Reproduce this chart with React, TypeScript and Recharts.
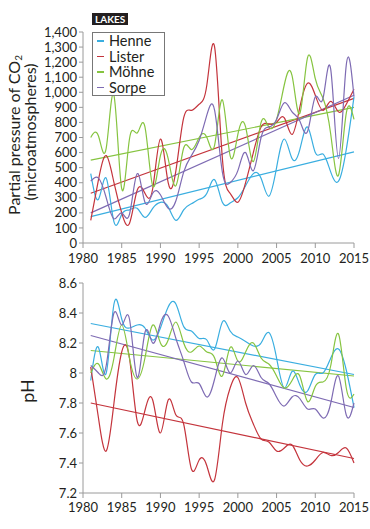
import React from "react";
import { LineChart, Line, XAxis, YAxis, ReferenceLine } from "recharts";

const years = [
  1981, 1982, 1983, 1984, 1985, 1986, 1987, 1988, 1989, 1990, 1991, 1992,
  1993, 1994, 1995, 1996, 1997, 1998, 1999, 2000, 2001, 2002, 2003, 2004,
  2005, 2006, 2007, 2008, 2009, 2010, 2011, 2012, 2013, 2014, 2015,
];

// pCO2 (microatmospheres)
const henneCO2 = [460, 290, 430, 140, 190, 220, 230, 170, 230, 270, 240, 150, 220, 260, 290, 330, 420, 270, 265, 300, 380, 460, 430, 310, 500, 690, 560, 620, 770, 600, 590, 470, 410, 620, 970];
const listerCO2 = [150, 420, 580, 400, 200, 130, 350, 330, 360, 690, 400, 480, 830, 880, 920, 1050, 1300, 560, 330, 270, 400, 600, 770, 790, 800, 830, 720, 900, 1060, 980, 880, 940, 870, 920, 1020];
const mohneCO2 = [700, 710, 630, 980, 360, 690, 730, 770, 380, 580, 560, 380, 630, 620, 700, 700, 650, 950, 580, 720, 770, 540, 800, 770, 820, 1050, 1110, 860, 1230, 1090, 960, 720, 450, 860, 820];
const sorpeCO2 = [410, 430, 300, 160, 200, 190, 460, 270, 330, 320, 230, 280, 470, 580, 680, 850, 880, 470, 400, 480, 600, 480, 700, 770, 820, 930, 870, 810, 740, 970, 960, 1150, 560, 1180, 970];

// pH
const hennePH = [7.95, 8.17, 8.0, 8.46, 8.36, 8.3, 8.32, 8.3, 8.22, 8.3, 8.44, 8.46, 8.31, 8.28, 8.23, 8.22, 8.16, 8.34, 8.28, 8.24, 8.21, 8.18, 8.2, 8.27, 8.1, 7.9, 8.01, 7.92, 7.88, 7.99, 8.0, 8.1, 8.16, 8.02, 7.77];
const listerPH = [8.04, 7.7, 7.48, 7.8, 8.14, 8.1, 7.68, 7.75, 7.82, 7.6, 7.82, 7.72, 7.66, 7.36, 7.42, 7.38, 7.29, 7.66, 7.9, 7.97, 7.8, 7.66, 7.56, 7.54, 7.48, 7.5, 7.52, 7.42, 7.38, 7.42, 7.47, 7.45, 7.47, 7.5, 7.4];
const mohnePH = [8.0, 8.06, 7.96, 8.1, 8.32, 8.1, 7.96, 8.1, 8.32, 8.2, 8.22, 8.34, 8.2, 8.14, 8.18, 8.14, 8.1, 7.98, 8.17, 8.08, 8.14, 8.2, 8.1, 8.06, 7.98, 7.9, 7.95, 7.98, 7.81, 7.91, 7.94, 8.05, 8.26, 7.9, 7.86];
const sorpePH = [8.05, 8.0, 8.05, 8.4, 8.32, 8.36, 7.97, 8.27, 8.2, 8.33, 8.38, 8.23, 8.08, 7.94, 7.93, 7.84, 7.96, 8.1, 8.0, 8.08, 7.99, 8.05, 7.97, 7.93, 7.84, 7.78, 7.84, 7.83, 7.76, 7.76, 7.7, 7.8, 7.98, 7.72, 7.8];

// trend lines: value at first and last year
const trendYears = [1981, 2015];
const henneCO2Trend = [175, 605];
const listerCO2Trend = [330, 960];
const mohneCO2Trend = [550, 900];
const sorpeCO2Trend = [200, 980];
const hennePHTrend = [8.33, 7.99];
const listerPHTrend = [7.8, 7.43];
const mohnePHTrend = [8.15, 7.98];
const sorpePHTrend = [8.25, 7.77];

const lakes = ["Henne", "Lister", "Möhne", "Sorpe"];
const colors = ["#3aaee0", "#c4343c", "#86c440", "#7e6bb3"];

const xTicks = [1980, 1985, 1990, 1995, 2000, 2005, 2010, 2015];
const co2Ticks = [0, 100, 200, 300, 400, 500, 600, 700, 800, 900, 1000, 1100, 1200, 1300, 1400];
const phTicks = [7.2, 7.4, 7.6, 7.8, 8, 8.2, 8.4, 8.6];

const co2Data = years.map((year, i) => ({
  year,
  Henne: henneCO2[i],
  Lister: listerCO2[i],
  Möhne: mohneCO2[i],
  Sorpe: sorpeCO2[i],
}));

const phData = years.map((year, i) => ({
  year,
  Henne: hennePH[i],
  Lister: listerPH[i],
  Möhne: mohnePH[i],
  Sorpe: sorpePH[i],
}));

const co2Trends = [henneCO2Trend, listerCO2Trend, mohneCO2Trend, sorpeCO2Trend];
const phTrends = [hennePHTrend, listerPHTrend, mohnePHTrend, sorpePHTrend];

const font = "Lato, 'Open Sans', sans-serif";
const tickStyle = { fontSize: 13, fill: "#231f20", fontFamily: font };
const axisStroke = "#9a9a9a";

const renderLines = () =>
  lakes.map((lake, i) => (
    <Line
      key={lake}
      type="natural"
      dataKey={lake}
      stroke={colors[i]}
      strokeWidth={1.2}
      dot={false}
      isAnimationActive={false}
    />
  ));

const renderTrends = (trends: number[][]) =>
  trends.map((t, i) => (
    <ReferenceLine
      key={lakes[i]}
      segment={[
        { x: trendYears[0], y: t[0] },
        { x: trendYears[1], y: t[1] },
      ]}
      stroke={colors[i]}
      strokeWidth={1.2}
      ifOverflow="visible"
    />
  ));

function LakesLegend() {
  return (
    <div style={{ position: "absolute", left: 92, top: 13, fontFamily: font }}>
      <div
        style={{
          display: "inline-block",
          background: "#231f20",
          color: "#fff",
          fontSize: 10,
          fontWeight: 700,
          lineHeight: "12px",
          height: 12,
          padding: "0 3px",
          verticalAlign: "top",
        }}
      >
        LAKES
      </div>
      <div
        style={{
          border: "1px solid #777",
          background: "#fff",
          width: 73,
          height: 64,
          boxSizing: "border-box",
          paddingTop: 0,
        }}
      >
        {lakes.map((lake, i) => (
          <div
            key={lake}
            style={{
              display: "flex",
              alignItems: "center",
              height: 15.5,
              lineHeight: "15px",
              fontSize: 14.5,
              color: "#231f20",
            }}
          >
            <span
              style={{ display: "inline-block", width: 7, height: 1.5, background: colors[i], margin: "0 5px 0 4px" }}
            />
            {lake}
          </div>
        ))}
      </div>
    </div>
  );
}

export default function App() {
  return (
    <div style={{ position: "absolute", left: 0, top: 0, width: 370, height: 529, background: "#fff" }}>
      <div style={{ position: "absolute", left: 0, top: 0 }}>
        <LineChart width={370} height={265} data={co2Data} margin={{ top: 32, right: 16, bottom: 0, left: 0 }}>
          <XAxis
            dataKey="year"
            type="number"
            domain={[1980, 2015]}
            ticks={xTicks}
            height={22}
            tick={tickStyle}
            stroke={axisStroke}
            tickSize={5}
            tickMargin={6}
          />
          <YAxis
            type="number"
            domain={[0, 1400]}
            ticks={co2Ticks}
            interval={0}
            width={83}
            tick={tickStyle}
            stroke={axisStroke}
            tickSize={4}
            tickFormatter={(v: number) => v.toLocaleString("en-US")}
          />
          {renderTrends(co2Trends)}
          {renderLines()}
        </LineChart>
      </div>
      <div style={{ position: "absolute", left: 0, top: 265 }}>
        <LineChart width={370} height={250} data={phData} margin={{ top: 18, right: 16, bottom: 0, left: 0 }}>
          <XAxis
            dataKey="year"
            type="number"
            domain={[1980, 2015]}
            ticks={xTicks}
            height={22}
            tick={tickStyle}
            stroke={axisStroke}
            tickSize={5}
            tickMargin={5}
          />
          <YAxis
            type="number"
            domain={[7.2, 8.6]}
            ticks={phTicks}
            interval={0}
            width={83}
            tick={tickStyle}
            stroke={axisStroke}
            tickSize={4}
          />
          {renderTrends(phTrends)}
          {renderLines()}
        </LineChart>
      </div>
      <svg width={370} height={529} style={{ position: "absolute", left: 0, top: 0, pointerEvents: "none" }}>
        <text
          transform="translate(13,135) rotate(-90)"
          textAnchor="middle"
          dominantBaseline="central"
          fontFamily={font}
          fontSize={16}
          fill="#231f20"
        >
          Partial pressure of CO
          <tspan fontSize={10} dy={5}>2</tspan>
        </text>
        <text
          transform="translate(29,132) rotate(-90)"
          textAnchor="middle"
          dominantBaseline="central"
          fontFamily={font}
          fontSize={16}
          fill="#231f20"
        >
          (microatmospheres)
        </text>
        <text
          transform="translate(27,391) rotate(-90)"
          textAnchor="middle"
          dominantBaseline="central"
          fontFamily={font}
          fontSize={18}
          fill="#231f20"
        >
          pH
        </text>
      </svg>
      <LakesLegend />
    </div>
  );
}
